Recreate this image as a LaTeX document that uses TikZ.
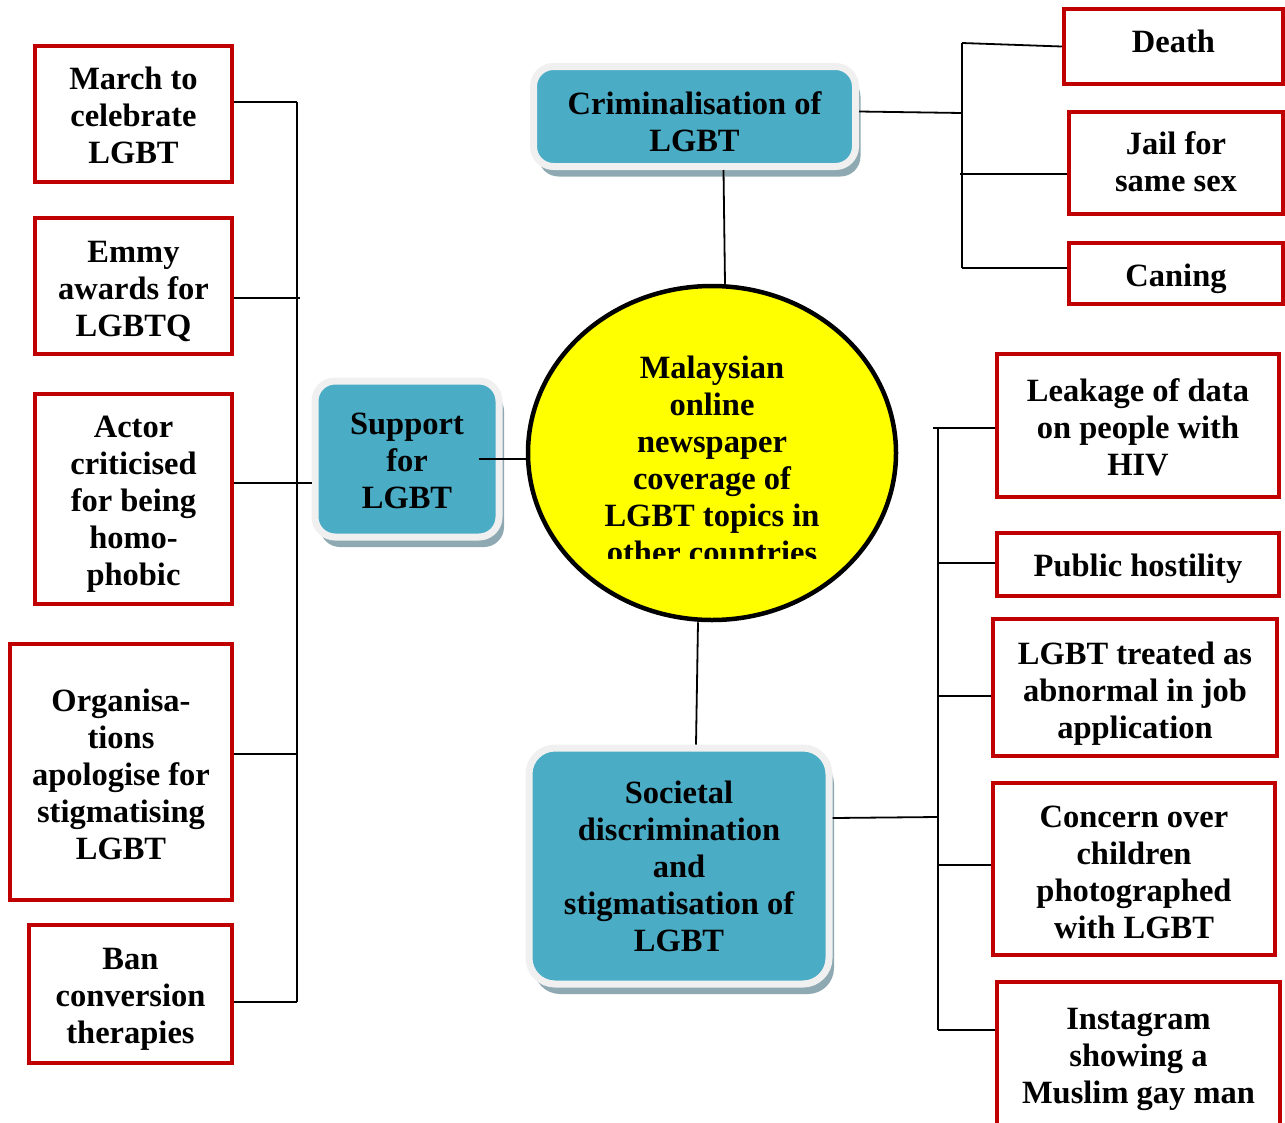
\documentclass[tikz,border=0pt]{standalone}
\usepackage{fontspec}
\setmainfont{Liberation Serif}
\usetikzlibrary{shadows,shapes.geometric}
\definecolor{redb}{HTML}{C00000}
\definecolor{blueb}{HTML}{4BACC6}
\definecolor{ringc}{HTML}{F0F0F0}
\definecolor{shadc}{HTML}{8FA9B3}
\definecolor{yel}{RGB}{255,255,0}
\begin{document}
\begin{tikzpicture}[x=1pt,y=-1pt,
  every node/.style={font=\fontsize{32.5}{37}\selectfont\bfseries, align=center, inner sep=0pt},
  rbox/.style={draw=redb, line width=4.5pt, fill=white},
  bbox/.style={fill=blueb, draw=ringc, line width=7pt, rounded corners=20pt,
    drop shadow={shadow xshift=5pt, shadow yshift=-10pt, fill=shadc, opacity=1}},
  ln/.style={draw=black, line width=1.8pt}]
\useasboundingbox (0,0) rectangle (1285,1122);
\clip (0,0) rectangle (1285,1122);

% central ellipse
\node[ellipse, draw=black, line width=4.5pt, fill=yel, minimum width=368pt, minimum height=334pt] (circ) at (712,453) {};
\begin{scope}
\clip (520,300) rectangle (900,558);
\node (ctext) at (712,460) {Malaysian\\online\\newspaper\\coverage of\\LGBT topics in\\other countries};
\end{scope}

% blue boxes
\node[bbox, minimum width=322pt, minimum height=100pt,
  label={[yshift=-5pt]center:{Criminalisation of\\LGBT}}] (crim) at (694.5,116.5) {};
\node[bbox, minimum width=184pt, minimum height=156pt,
  label={[yshift=-1.5pt]center:{Support\\for\\LGBT}}] (sup) at (407,459) {};
\node[bbox, minimum width=300pt, minimum height=236pt, rounded corners=26pt,
  label={[yshift=-0.5pt]center:{Societal\\discrimination\\and\\stigmatisation of\\LGBT}}] (soc) at (679,866) {};

% left red boxes
\node[rbox, minimum width=197pt, minimum height=136pt,
  label={[yshift=-1pt]center:{March to\\celebrate\\LGBT}}] (L1) at (133.5,114) {};
\node[rbox, minimum width=197pt, minimum height=136pt,
  label={[yshift=-5pt]center:{Emmy\\awards for\\LGBTQ}}] (L2) at (133.5,286) {};
\node[rbox, minimum width=197pt, minimum height=210pt,
  label={[yshift=-5pt]center:{Actor\\criticised\\for being\\homo-\\phobic}}] (L3) at (133.5,499) {};
\node[rbox, minimum width=222pt, minimum height=256pt,
  label={[yshift=-2.5pt]center:{Organisa-\\tions\\apologise for\\stigmatising\\LGBT}}] (L4) at (121,772) {};
\node[rbox, minimum width=203pt, minimum height=138pt,
  label={[yshift=-5pt]center:{Ban\\conversion\\therapies}}] (L5) at (130.5,994) {};

% right red boxes (top)
\node[rbox, minimum width=219pt, minimum height=75pt,
  label={[yshift=5pt]center:{Death}}] (D) at (1173.5,46.5) {};
\node[rbox, minimum width=214pt, minimum height=102pt,
  label={[yshift=1.5pt]center:{Jail for\\same sex}}] (J) at (1176,163) {};
\node[rbox, minimum width=214pt, minimum height=61pt,
  label={[yshift=-5pt]center:{Caning}}] (C) at (1176,273.5) {};

% right red boxes (bottom)
\node[rbox, minimum width=282pt, minimum height=143pt,
  label={[yshift=-1.5pt]center:{Leakage of data\\on people with\\HIV}}] (LK) at (1138,425.5) {};
\node[rbox, minimum width=282pt, minimum height=63pt,
  label={[yshift=-4pt]center:{Public hostility}}] (PH) at (1138,564.5) {};
\node[rbox, minimum width=284pt, minimum height=137pt,
  label={[yshift=-6pt]center:{LGBT treated as\\abnormal in job\\application}}] (LT) at (1135,687.5) {};
\node[rbox, minimum width=282pt, minimum height=172pt,
  label={[yshift=-3pt]center:{Concern over\\children\\photographed\\with LGBT}}] (CO) at (1134,869) {};
\node[rbox, minimum width=283pt, minimum height=146pt,
  label={[yshift=-4pt]center:{Instagram\\showing a\\Muslim gay man}}] (IG) at (1138.5,1055) {};

% left bus
\coordinate (lbt) at (297,102);
\coordinate (lb2) at (300,298);
\coordinate (lb3) at (297,483);
\coordinate (lb4) at (297,754);
\coordinate (lbb) at (297,1002);
\draw[ln] (lbt) -- (lbb);
\draw[ln] (L1.east |- lbt) -- (lbt);
\draw[ln] (L2.east |- lb2) -- (lb2);
\draw[ln] (L3.east |- lb3) -- (sup.west |- lb3);
\draw[ln] (L4.east |- lb4) -- (lb4);
\draw[ln] (L5.east |- lbb) -- (lbb);

% hub connections
\draw[ln] ([xshift=-24pt]sup.east) -- (sup.east -| circ.west);
\draw[ln] ([xshift=29pt]crim.south) -- ([xshift=13pt]circ.north);
\draw[ln] ([xshift=-14pt]circ.south) -- ([xshift=17pt]soc.north);

% top right bus
\coordinate (rbt) at (962,43);
\coordinate (rb1) at (962,113);
\coordinate (rbj) at (960,174);
\coordinate (rbb) at (962,268);
\draw[ln] (rbt) -- (rbb);
\draw[ln] ([yshift=5pt]crim.east) -- (rb1);
\draw[ln] (rbt) -- (D.west);
\draw[ln] (rbj) -- (J.west |- rbj);
\draw[ln] (rbb) -- (C.west |- rbb);

% bottom right bus
\coordinate (sbt0) at (933,428);
\coordinate (sbt) at (938,428);
\coordinate (sb1) at (938,817);
\coordinate (sb2) at (938,563);
\coordinate (sb3) at (938,696);
\coordinate (sb4) at (938,865);
\coordinate (sbb) at (938,1030);
\draw[ln] (sbt) -- (sbb);
\draw[ln] ([yshift=48pt]soc.east) -- (sb1);
\draw[ln] (sbt0) -- (LK.west |- sbt0);
\draw[ln] (sb2) -- (PH.west |- sb2);
\draw[ln] (sb3) -- (LT.west |- sb3);
\draw[ln] (sb4) -- (CO.west |- sb4);
\draw[ln] (sbb) -- (IG.west |- sbb);
\end{tikzpicture}
\end{document}
